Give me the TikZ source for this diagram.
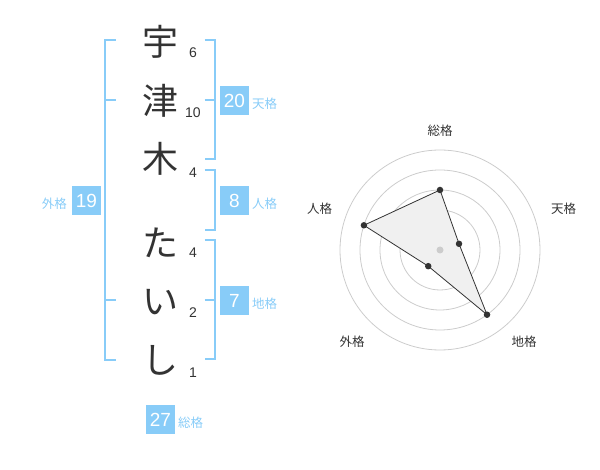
\documentclass[tikz,border=0pt]{standalone}
\usepackage{fontspec}
\setmainfont{Noto Sans CJK JP}
\newfontfamily\numfont{Liberation Sans}
\definecolor{skyb}{HTML}{88CCF8}
\definecolor{ink}{HTML}{333333}
\definecolor{ring}{HTML}{CCCCCC}
\begin{document}
\begin{tikzpicture}[x=1pt,y=-1pt,
  bigchar/.style={font=\fontsize{36}{36}\selectfont, text=ink, inner sep=0pt},
  strokes/.style={font=\numfont\fontsize{14}{14}\selectfont, text=ink, inner sep=0pt},
  valbox/.style={fill=skyb, text=white, minimum width=29pt, minimum height=29pt, inner sep=0pt, font=\numfont\fontsize{19}{19}\selectfont},
  kaku/.style={text=skyb, font=\fontsize{12.5}{12.5}\selectfont, inner sep=0pt},
  brk/.style={draw=skyb, line width=2pt},
  axlbl/.style={text=ink, font=\fontsize{12.5}{12.5}\selectfont, inner sep=0pt},
  ringc/.style={draw=ring, line width=0.8pt},
  dot/.style={circle, fill=ink, inner sep=0pt, minimum size=6.5pt}]
\useasboundingbox (0,0) rectangle (600,470);
% name characters
\node[bigchar] (c1) at (160,42) {宇};
\node[bigchar] (c2) at (160,101) {津};
\node[bigchar] (c3) at (160,159) {木};
\node[bigchar] (c4) at (160,243) {た};
\node[bigchar] (c5) at (160,302) {い};
\node[bigchar] (c6) at (160,360) {し};
% stroke counts
\node[strokes] (s1) at (193,53) {6};
\node[strokes] (s2) at (193,113) {10};
\node[strokes] (s3) at (193,173) {4};
\node[strokes] (s4) at (193,253) {4};
\node[strokes] (s5) at (193,313) {2};
\node[strokes] (s6) at (193,373) {1};
% brackets
\draw[brk] (115.5,40) -- (105,40) -- (105,360) -- (115.5,360);
\draw[brk] (105,100) -- (115.5,100);
\draw[brk] (105,300) -- (115.5,300);
\draw[brk] (204.5,40) -- (214.5,40) -- (214.5,159.5) -- (204.5,159.5);
\draw[brk] (204.5,100) -- (214.5,100);
\draw[brk] (204.5,170) -- (214.5,170) -- (214.5,230) -- (204.5,230);
\draw[brk] (204.5,240) -- (214.5,240) -- (214.5,359.5) -- (204.5,359.5);
\draw[brk] (204.5,300) -- (214.5,300);
% value boxes
\node[valbox] (ten) at (234.5,100.5) {20};
\node[kaku, anchor=west] (tenl) at (252,104) {天格};
\node[valbox] (jin) at (234.5,200.5) {8};
\node[kaku, anchor=west] (jinl) at (252,204) {人格};
\node[valbox] (chi) at (234.5,300.5) {7};
\node[kaku, anchor=west] (chil) at (252,304) {地格};
\node[valbox] (gai) at (86.5,200.5) {19};
\node[kaku, anchor=east] (gail) at (67,204) {外格};
\node[valbox] (sou) at (160.5,419.5) {27};
\node[kaku, anchor=west] (soul) at (178,423) {総格};
% radar chart
\coordinate (C) at (440,250);
\foreach \r in {20,40,60,80,100} \draw[ringc] (C) circle[radius=\r];
\coordinate (p1) at (440,190);
\coordinate (p2) at (459.02,243.82);
\coordinate (p3) at (487.02,314.72);
\coordinate (p4) at (428.24,266.18);
\coordinate (p5) at (363.92,225.28);
\fill[black!6] (p1) -- (p2) -- (p3) -- (p4) -- (p5) -- cycle;
\draw[ink, line width=0.8pt] (p1) -- (p2) -- (p3) -- (p4) -- (p5) -- cycle;
\node[circle, fill=ring, inner sep=0pt, minimum size=7pt] (cd) at (C) {};
\foreach \p in {p1,p2,p3,p4,p5} \node[dot] at (\p) {};
\node[axlbl] (a1) at (440,130.5) {総格};
\node[axlbl] (a2) at (563.5,209) {天格};
\node[axlbl] (a3) at (524,342) {地格};
\node[axlbl] (a4) at (352,342) {外格};
\node[axlbl] (a5) at (319.5,209) {人格};
\end{tikzpicture}
\end{document}
